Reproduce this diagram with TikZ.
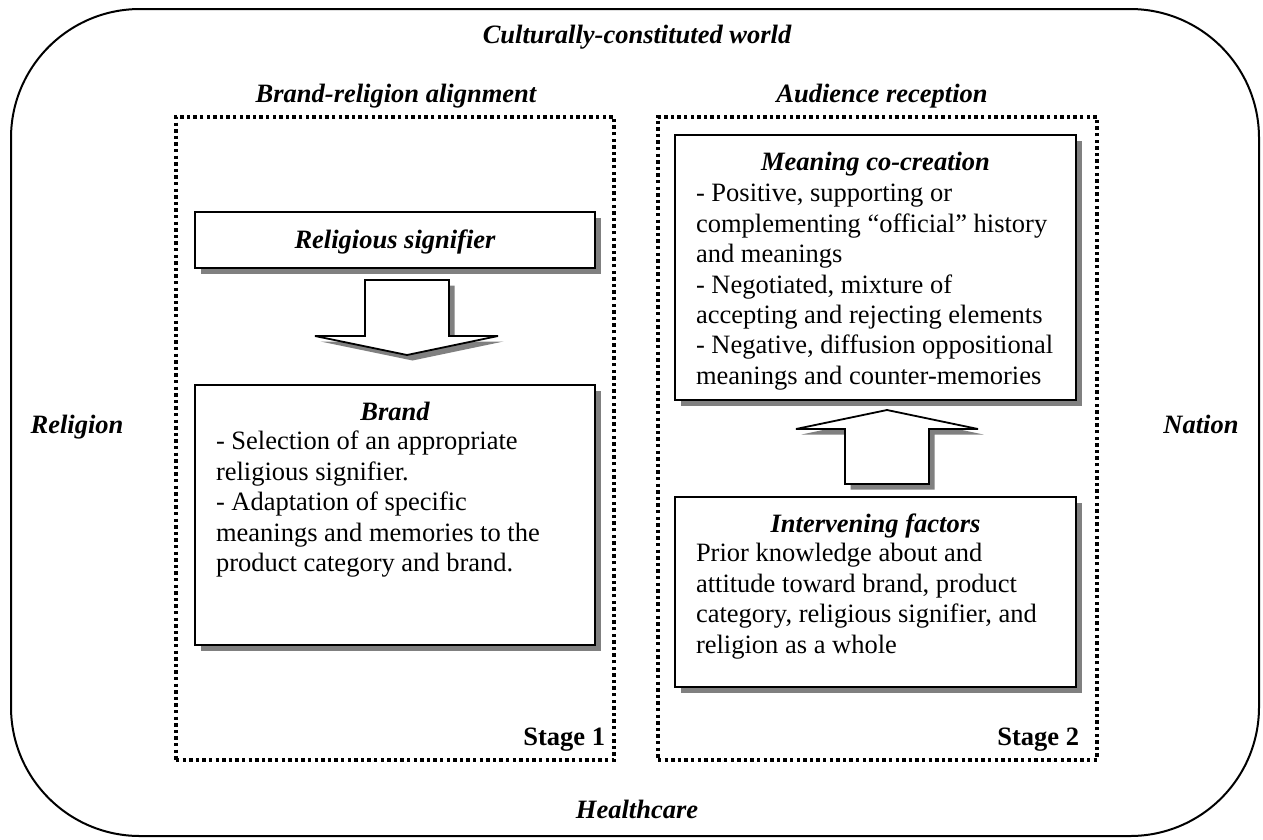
\documentclass[tikz,border=0pt]{standalone}
\usepackage{fontspec}
\setmainfont{Liberation Serif}
\usetikzlibrary{shadows}
\definecolor{shgray}{RGB}{128,128,128}
\begin{document}
\begin{tikzpicture}[x=1pt,y=-1pt,
  every node/.style={inner sep=0pt, outer sep=0pt, font=\fontsize{26.5}{30.4}\selectfont},
  hd/.style={font=\fontsize{26.5}{30.4}\selectfont\bfseries\itshape},
  stagelbl/.style={font=\fontsize{26.5}{30.4}\selectfont\bfseries, anchor=base east},
  sh/.style={drop shadow={shadow xshift=5.5pt, shadow yshift=-5.5pt, fill=shgray, opacity=1}},
  box/.style={draw, line width=2pt, fill=white, sh, anchor=north west},
  blockarrow/.style={draw, line width=1.8pt, fill=white, sh, miter limit=4},
  dotbox/.style={draw, line width=3.6pt, dash pattern=on 3.4pt off 3.2pt, anchor=north west},
  body/.style={anchor=north west, align=left}
]
\useasboundingbox (0,0) rectangle (1263,839);

% outer frame
\node[draw, line width=2pt, rounded corners=129pt, anchor=north west,
      minimum width=1248pt, minimum height=827pt] (world) at (11,9) {};

% outer labels
\node[hd, anchor=base] (tworld) at (637,43) {Culturally-constituted world};
\node[hd, anchor=base] (trel) at (77,433) {Religion};
\node[hd, anchor=base] (tnat) at (1201,433) {Nation};
\node[hd, anchor=base] (thc) at (637,818) {Healthcare};

% stage frames
\node[dotbox, minimum width=438pt, minimum height=643pt] (stage1) at (176,117) {};
\node[dotbox, minimum width=439pt, minimum height=643pt] (stage2) at (658,117) {};
\node[hd, anchor=base] (tbra) at (396,102) {Brand-religion alignment};
\node[hd, anchor=base] (taud) at (882,102) {Audience reception};
\node[stagelbl] (st1) at (605,745) {Stage 1};
\node[stagelbl] (st2) at (1079,745) {Stage 2};

% stage 1 boxes
\node[box, minimum width=400pt, minimum height=56pt] (rs) at (195,212) {};
\node[hd, anchor=base] (trs) at (395,248) {Religious signifier};

\node[box, minimum width=400pt, minimum height=260pt] (brand) at (195,385) {};
\node[hd, anchor=base] (tbrand) at (395,420) {Brand};
\node[body] (bbrand) at (216,428.7) {\strut- Selection of an appropriate\\religious signifier.\\- Adaptation of specific\\meanings and memories to the\\product category and brand.};

% stage 2 boxes
\node[box, minimum width=401pt, minimum height=265pt] (mean) at (675,135) {};
\node[hd, anchor=base] (tmean) at (875.5,170) {Meaning co-creation};
\node[body] (bmean) at (696,180.7) {\strut- Positive, supporting or\\complementing “official” history\\and meanings\\- Negotiated, mixture of\\accepting and rejecting elements\\- Negative, diffusion oppositional\\meanings and counter-memories};

\node[box, minimum width=401pt, minimum height=190pt] (interv) at (675,497) {};
\node[hd, anchor=base] (tinterv) at (875.5,532) {Intervening factors};
\node[body] (binterv) at (696,540.7) {\strut Prior knowledge about and\\attitude toward brand, product\\category, religious signifier, and\\religion as a whole};

% block arrows
\draw[blockarrow] (365,280) -- (449,280) -- (449,336) -- (498,336) -- (407,355)
  -- (315,336) -- (365,336) -- cycle;
\draw[blockarrow] (845,484) -- (929,484) -- (929,429) -- (978,429) -- (887,410)
  -- (796,429) -- (845,429) -- cycle;
\end{tikzpicture}
\end{document}
